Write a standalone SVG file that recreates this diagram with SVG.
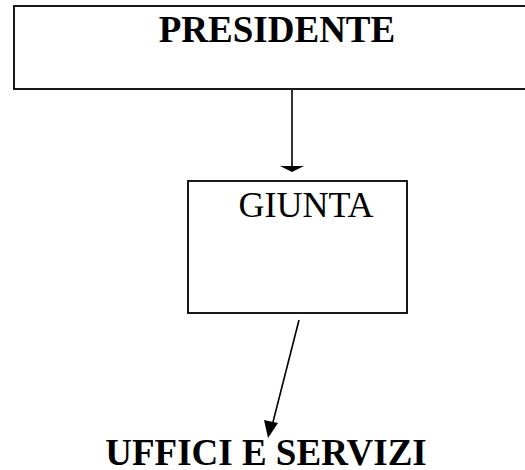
<svg xmlns="http://www.w3.org/2000/svg" width="525" height="470" viewBox="0 0 525 470">
<style>
.box{fill:#fff;stroke:#000;stroke-width:1.8}
.bold{font-family:"Liberation Serif","Times New Roman",serif;font-weight:bold;font-size:37px;fill:#000}
.reg{font-family:"Liberation Serif","Times New Roman",serif;font-size:36px;fill:#000}
.conn{stroke:#000;stroke-width:1.6;fill:none}
</style>
<rect width="525" height="470" fill="#fff"/>
<g id="presidente">
<rect class="box" x="14" y="6" width="530" height="83"/>
<text class="bold" x="277" y="42" text-anchor="middle">PRESIDENTE</text>
</g>
<g id="giunta">
<rect class="box" x="188" y="181" width="219" height="132"/>
<text class="reg" x="306" y="217" text-anchor="middle">GIUNTA</text>
</g>
<g id="uffici">
<text class="bold" x="266" y="465" text-anchor="middle">UFFICI E SERVIZI</text>
</g>
<g id="connectors">
<line class="conn" x1="292" y1="90" x2="292" y2="168" stroke="#444"/>
<polygon points="280,166 304,166 292,172" fill="#000"/>
<line class="conn" x1="299" y1="320" x2="273" y2="422"/>
<polygon points="268,438 264,420 278,423" fill="#000"/>
</g>
</svg>
